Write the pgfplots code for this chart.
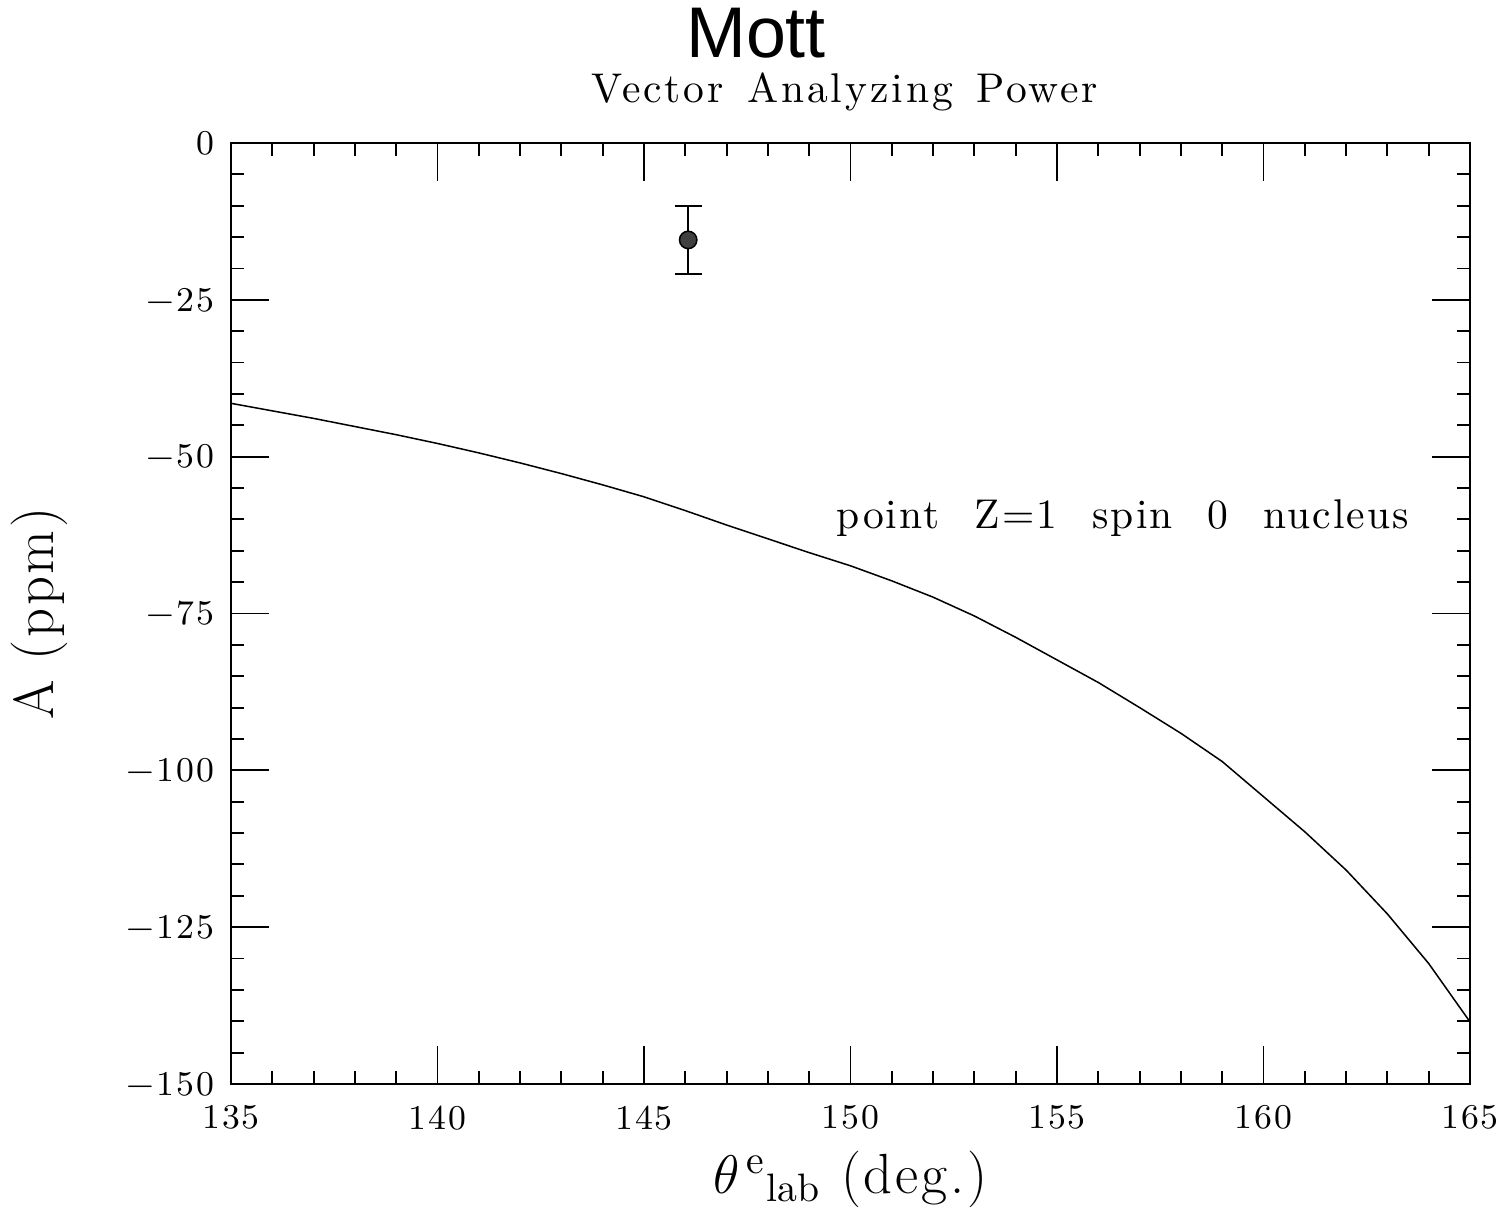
\documentclass[border=0pt]{standalone}
\usepackage{fontspec}
\setmainfont{Latin Modern Roman}
\newfontfamily\sansfont{Liberation Sans}
\newfontfamily\txtfam{Latin Modern Roman}[LetterSpace=5,WordSpace=2.2]
\newfontfamily\subfam{Latin Modern Roman}[LetterSpace=7,WordSpace=1.4]
\usepackage{pgfplots}
\pgfplotsset{compat=1.18}
\newcommand\tickfont{\fontsize{9.2}{10}\selectfont\addfontfeatures{LetterSpace=6}}
\newcommand\txtfont{\txtfam\fontsize{11}{12}\selectfont}
\newcommand\subfont{\subfam\fontsize{11}{12}\selectfont}
\newcommand\labfont{\fontsize{15}{17}\selectfont\addfontfeatures{LetterSpace=5}}
\pgfplotstableread{
x y
135 -41.5
136 -42.7
137 -43.9
138 -45.2
139 -46.5
140 -47.9
141 -49.4
142 -51.0
143 -52.7
144 -54.5
145 -56.4
146 -58.6
147 -60.9
148 -63.1
149 -65.3
150 -67.4
151 -69.8
152 -72.4
153 -75.4
154 -78.8
155 -82.4
156 -86.0
157 -90.0
158 -94.1
159 -98.6
160 -104.2
161 -109.8
162 -115.9
163 -122.9
164 -130.8
165 -140.1
}\curve
\begin{document}
\begin{tikzpicture}
\begin{axis}[
  name=ax, at={(0,0)}, anchor=south west,
  scale only axis, width=328pt, height=249.1pt,
  xmin=135, xmax=165, ymin=-150, ymax=0,
  xtick={135,140,...,165}, xticklabels={135,140,145,150,155,160,165},
  ytick={-150,-125,...,0}, yticklabels={−150,−125,−100,−75,−50,−25,0},
  minor x tick num=4, minor y tick num=4,
  tick pos=both, tick align=inside,
  major tick length=10pt, minor tick length=3.4pt,
  every tick/.style={black, line width=0.5pt},
  axis line style={line width=0.55pt},
  xticklabel style={font=\tickfont, inner sep=0pt, anchor=north, yshift=-5.5pt},
  yticklabel style={font=\tickfont, inner sep=0pt, anchor=east, xshift=-4.2pt},
  clip=false,
]
\addplot[black, line width=0.4pt] table[x=x, y=y] {\curve};
\addplot[only marks, mark=*, mark size=2.3pt, mark options={fill=black!75, draw=black},
  error bars/.cd, y dir=both, y explicit,
  error mark options={rotate=90, mark size=3.6pt, line width=0.5pt},
  error bar style={line width=0.5pt}]
  coordinates {(146.07,-15.45) +- (0,5.45)};
\node[anchor=base west, font=\txtfont, inner sep=0pt] at (axis cs:149.65,-61.4) {point Z=1 spin 0 nucleus};
\end{axis}
\node[font=\sansfont\fontsize{19}{21}\selectfont, anchor=base, inner sep=0pt] at (139pt,271.6pt) {Mott};
\node[font=\subfont, anchor=base, inner sep=0pt] at (162.5pt,259.7pt) {Vector Analyzing Power};
\node[font=\labfont, anchor=base, inner sep=0pt, rotate=90] at (-47.1pt,124.55pt) {A (ppm)};
\node[font=\labfont, anchor=base, inner sep=0pt] at (164pt,-28.9pt) {$\theta^{\,\mathrm{e}}{}_{\mathrm{lab}}$ (deg.)};
\pgfresetboundingbox
\path (-61.15pt,-33.09pt) rectangle (338.85pt,286.96pt);
\end{tikzpicture}
\end{document}
